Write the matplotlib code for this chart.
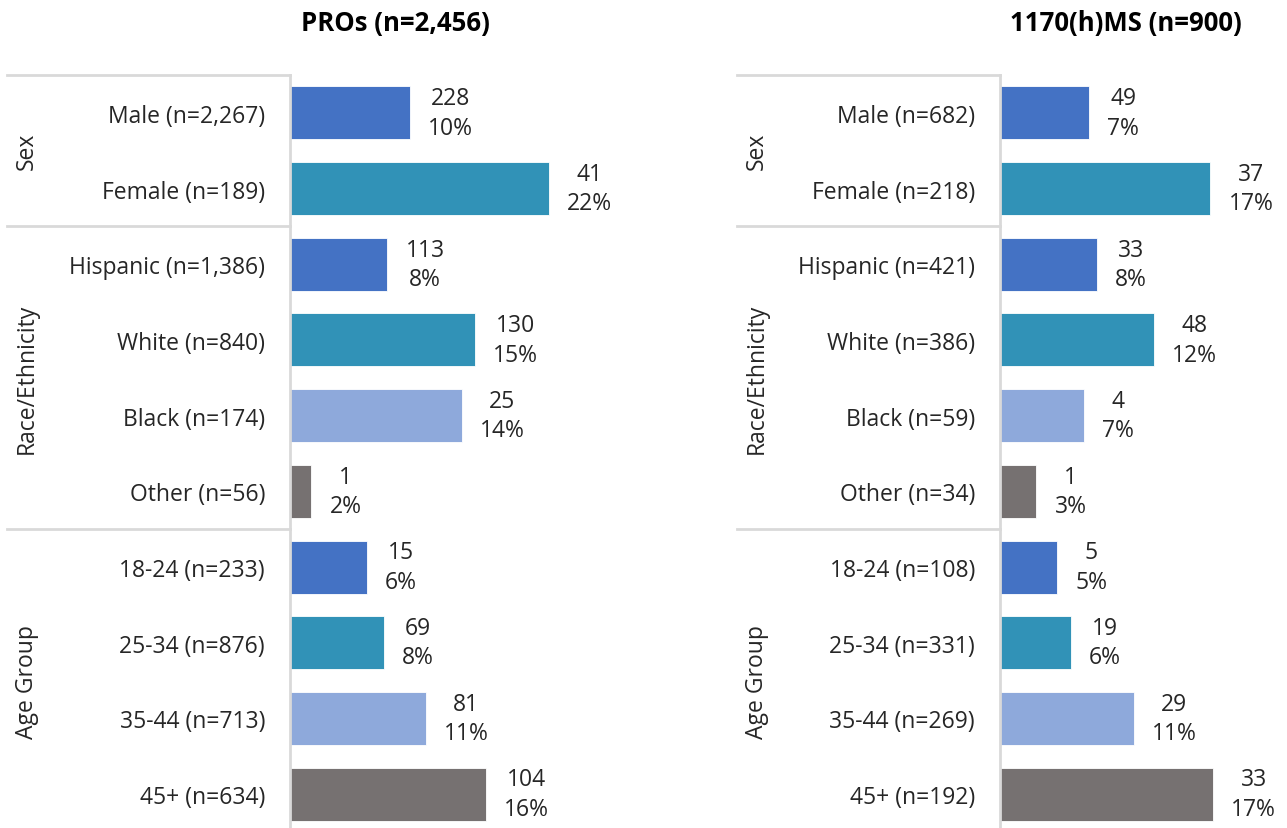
import matplotlib
matplotlib.use("Agg")
import matplotlib.pyplot as plt
from matplotlib.transforms import blended_transform_factory

plt.rcParams['font.family'] = ['Open Sans', 'DejaVu Sans']

# Data
categories_pro = ["Male (n=2,267)", "Female (n=189)", "Hispanic (n=1,386)", "White (n=840)",
                  "Black (n=174)", "Other (n=56)", "18-24 (n=233)", "25-34 (n=876)",
                  "35-44 (n=713)", "45+ (n=634)"]
counts_pro = [228, 41, 113, 130, 25, 1, 15, 69, 81, 104]
pct_pro = [10.06, 21.69, 8.15, 15.48, 14.37, 1.79, 6.44, 7.88, 11.36, 16.40]

categories_ms = ["Male (n=682)", "Female (n=218)", "Hispanic (n=421)", "White (n=386)",
                 "Black (n=59)", "Other (n=34)", "18-24 (n=108)", "25-34 (n=331)",
                 "35-44 (n=269)", "45+ (n=192)"]
counts_ms = [49, 37, 33, 48, 4, 1, 5, 19, 29, 33]
pct_ms = [7.18, 16.97, 7.84, 12.44, 6.78, 2.94, 4.63, 5.74, 10.78, 17.19]

groups = ["Sex", "Race/Ethnicity", "Age Group"]
group_sizes = [2, 4, 4]

titles = ["PROs (n=2,456)", "1170(h)MS (n=900)"]

BLUE, TEAL, LBLUE, GRAY = "#4472C4", "#3192B7", "#8EA9DB", "#767171"
bar_colors = [BLUE, TEAL, BLUE, TEAL, LBLUE, GRAY, BLUE, TEAL, LBLUE, GRAY]
LINE = "#D9D9D9"
TXT = "#262626"

W, H = 1287, 829
fig = plt.figure(figsize=(W / 100, H / 100), dpi=100)

top_px, bot_px = 76, 833


def panel(spine_px, right_px, xmax, line_x0_px, grp_x_px, title_x_px, title,
          cats, counts, pcts):
    ax = fig.add_axes([spine_px / W, 1 - bot_px / H, (right_px - spine_px) / W,
                       (bot_px - top_px) / H])
    y = list(range(len(cats)))
    ax.barh(y, pcts, height=0.7, color=bar_colors, edgecolor="white", linewidth=0.6)
    ax.set_xlim(0, xmax)
    ax.set_ylim(len(cats) - 0.5, -0.5)
    ax.set_yticks(y)
    ax.set_yticklabels(cats, fontsize=16.5, color=TXT)
    ax.tick_params(axis="y", length=0, pad=18)
    ax.set_xticks([])
    for s in ["top", "right", "bottom"]:
        ax.spines[s].set_visible(False)
    ax.spines["left"].set_color(LINE)
    ax.spines["left"].set_linewidth(2)

    for i, (n, p) in enumerate(zip(counts, pcts)):
        ax.annotate(f"{n}\n{p:.0f}%", xy=(p, i), xytext=(13, 0),
                    textcoords="offset points", ha="left", va="center",
                    multialignment="center", fontsize=16.5, color=TXT,
                    linespacing=1.3)

    tr = blended_transform_factory(fig.transFigure, ax.transData)
    start = -0.5
    for g, size in zip(groups, group_sizes):
        ax.plot([line_x0_px / W, spine_px / W], [start, start], color=LINE,
                linewidth=2, transform=tr, clip_on=False)
        ax.text(grp_x_px / W, start + size / 2, g, transform=tr, rotation=90,
                ha="center", va="center", fontsize=16.5, color=TXT)
        start += size

    fig.text(title_x_px / W, 1 - 23 / H, title, ha="center", va="center",
             fontsize=18.5, fontweight="bold", color="black")


panel(290, 660, 370 / 11.95, 7, 27, 395, titles[0], categories_pro, counts_pro, pct_pro)
panel(1000, 1287, 287 / 12.4, 737, 757, 1126, titles[1], categories_ms, counts_ms, pct_ms)

fig.savefig("out.png", dpi=100)
